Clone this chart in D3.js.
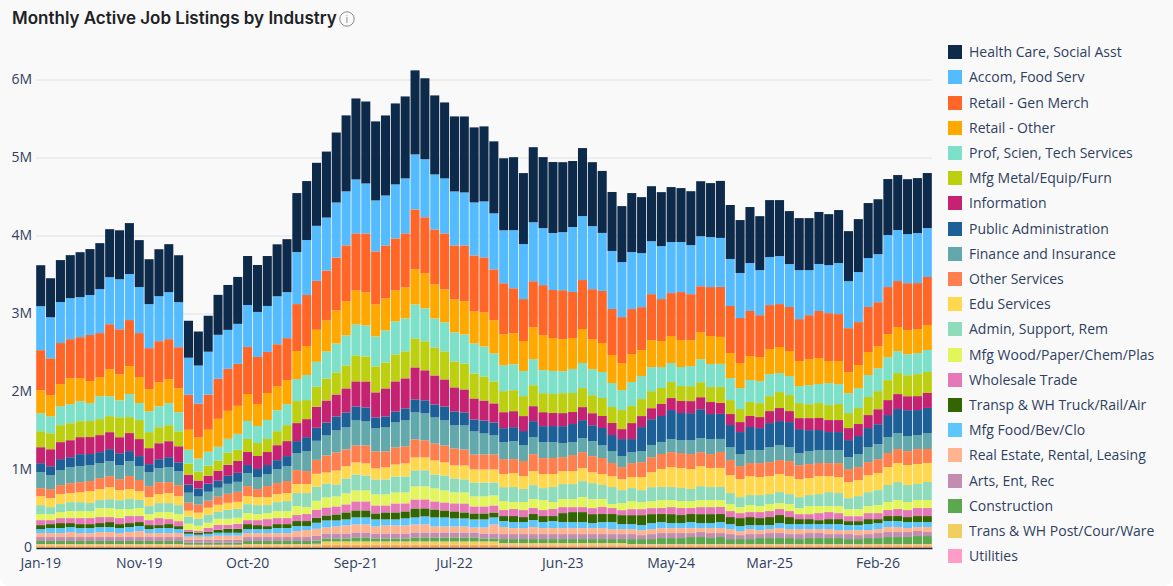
<!DOCTYPE html>
<html>
<head>
<meta charset="utf-8">
<title>Monthly Active Job Listings by Industry</title>
<script src="https://cdn.jsdelivr.net/npm/d3@7"></script>
<style>
  html, body { margin: 0; padding: 0; background: #fff; overflow: hidden; }
  svg { display: block; }
</style>
</head>
<body>
<div id="chart"></div>
<script>
// values in thousands of listings
const healthCare = [525,500,538,551,576,589,589,615,628,653,602,576,602,615,602,474,436,461,512,576,602,628,602,640,666,679,
  756,756,808,846,897,974,1038,1051,1013,1026,1038,1051,1077,1038,1013,974,962,974,962,962,923,923,936,910,962,910,910,897,846,872,820,795,756,718,
  756,718,705,692,705,692,692,705,692,731,692,679,718,692,731,718,679,667,667,667,654,679,641,679,705,705,718,705,705,705,705];
const accomFood = [564,526,526,526,513,513,564,603,641,590,590,564,577,603,577,474,487,551,564,500,513,538,577,590,615,590,667,705,705,
  679,705,692,692,641,654,641,692,705,705,744,705,705,692,679,679,718,718,679,744,705,756,731,731,744,833,820,808,744,744,705,
  731,692,679,679,654,641,628,641,641,628,603,577,615,577,615,615,551,628,577,603,615,654,603,641,628,615,667,654,628,641,628];
const retailGenMerch = [513,474,526,500,526,590,564,577,577,590,564,526,526,513,526,449,436,449,513,538,538,603,603,526,538,538,603,654,628,
  641,679,718,731,756,679,679,667,692,769,718,705,718,692,718,718,705,654,654,577,538,590,641,615,628,590,628,641,667,590,590,
  577,551,590,538,551,615,590,590,628,641,603,577,577,538,564,551,564,538,564,603,615,603,564,551,577,564,603,590,603,590,615];
const retailOther = [295,269,282,333,295,282,244,346,333,359,333,282,308,308,308,256,269,282,359,359,359,346,282,346,308,308,359,372,410,
  397,423,436,436,423,410,410,397,397,449,449,436,423,423,423,410,436,423,397,397,385,410,449,423,410,397,436,385,372,359,346,
  359,333,346,333,346,346,333,346,359,346,321,321,308,308,321,333,321,321,333,333,282,295,269,295,295,282,295,308,308,308,321];
const profScienTech = [231,218,244,244,256,231,295,256,218,295,218,269,269,282,244,179,167,179,179,179,205,231,218,244,269,269,282,321,321,
  346,372,385,397,397,385,410,423,423,436,423,372,372,372,372,385,385,359,333,333,321,333,295,295,282,308,321,333,333,308,256,
  308,295,308,269,244,244,256,295,295,295,282,269,282,282,282,244,244,218,244,244,282,256,256,256,282,295,295,282,269,269,282];
const mfgMetal = [205,205,218,218,205,205,205,205,256,205,244,205,205,205,192,141,115,128,128,154,141,167,167,167,179,205,282,244,256,
  282,282,295,333,321,333,333,346,346,372,372,359,359,333,333,321,308,282,269,269,256,269,244,244,256,244,244,231,231,205,244,
  218,218,218,205,205,192,192,192,192,205,179,167,179,179,192,205,205,192,179,192,192,205,192,205,231,231,256,269,269,282,269];
const information = [205,218,218,218,218,218,218,218,205,231,218,205,205,205,205,128,103,103,128,141,154,167,167,167,192,192,231,231,269,
  282,282,308,321,333,321,359,385,385,410,385,372,346,308,295,269,256,244,205,205,192,192,179,167,167,154,167,154,154,154,128,
  205,141,141,154,154,154,154,154,154,141,141,128,141,141,154,167,141,141,154,154,154,154,154,154,167,192,192,192,179,179,192];
const publicAdmin = [115,115,141,128,154,141,141,154,154,128,128,103,115,128,115,103,103,103,90,103,115,103,103,115,115,128,154,179,167,
  167,179,192,179,179,141,141,141,154,167,167,167,179,179,167,154,167,167,179,179,179,205,205,205,218,231,231,205,218,205,218,
  167,308,333,333,372,346,346,372,321,321,282,282,295,282,308,308,321,308,269,256,231,231,218,231,244,256,282,308,333,321,321];
const financeInsurance = [205,179,192,205,205,205,192,192,179,192,179,179,179,192,179,128,103,115,115,128,128,167,154,154,179,192,218,256,244,
  256,282,282,321,308,295,308,321,333,346,346,333,321,295,308,295,269,244,218,231,205,218,205,205,179,167,179,192,167,154,141,
  141,141,154,154,167,167,179,179,192,167,167,154,167,167,192,192,179,154,167,167,167,167,154,167,192,192,205,205,192,179,205];
const otherServices = [103,115,115,128,128,128,141,141,141,167,141,141,154,141,141,103,103,90,103,115,128,128,103,141,141,154,179,167,179,
  218,231,218,218,231,218,205,218,218,231,218,218,218,218,205,192,192,192,192,179,192,218,205,205,179,205,205,205,205,167,154,
  179,192,192,192,192,192,192,179,179,205,192,167,167,179,179,179,192,179,179,167,167,179,167,167,167,179,179,179,179,192,179];
const eduServices = [115,115,128,115,128,154,141,154,128,128,115,115,115,128,115,77,77,90,90,90,90,103,103,103,103,103,115,115,167,
  141,179,154,154,154,141,154,154,167,167,167,179,167,167,179,167,167,167,167,179,167,179,179,167,167,167,167,141,141,141,141,
  141,167,192,231,256,256,256,256,244,244,231,231,244,231,231,231,231,231,218,231,205,205,205,205,218,218,231,244,256,256,244];
const adminSupport = [115,90,103,115,115,103,103,115,115,128,103,103,115,115,115,90,90,103,90,115,115,115,115,103,115,128,167,179,179,
  179,154,192,205,192,192,192,205,205,205,205,179,192,179,167,179,179,167,179,192,167,179,154,192,192,192,205,205,179,218,167,
  167,154,179,167,167,167,154,179,167,167,141,128,128,141,128,141,128,141,141,154,179,167,141,167,179,192,218,231,218,205,231];
const mfgWood = [77,77,77,90,90,90,115,115,115,90,103,77,77,90,90,77,64,64,77,77,77,90,77,77,90,90,115,90,115,
  128,128,141,141,141,141,141,141,141,167,167,167,154,141,141,128,128,128,115,90,103,115,128,90,103,103,128,115,103,51,90,
  103,90,90,103,90,90,90,90,90,90,90,77,90,77,90,77,90,77,103,90,77,90,90,90,90,103,103,115,103,103,103];
const wholesale = [64,51,64,64,77,77,77,64,77,90,77,64,90,64,64,26,26,51,64,51,64,51,64,90,77,77,77,90,103,
  103,103,103,115,115,103,90,115,103,115,115,103,103,103,115,90,90,90,77,90,90,77,77,90,77,64,64,77,90,77,64,
  77,77,77,77,90,90,77,90,90,90,77,64,64,77,77,77,77,64,64,90,90,77,64,64,77,77,77,90,90,103,103];
const transpTruck = [51,51,64,51,51,51,51,64,51,51,51,51,38,51,38,26,26,26,38,51,51,64,51,38,51,51,64,64,64,
  64,77,90,90,90,77,90,90,90,115,103,103,90,90,77,77,77,64,64,77,64,77,77,64,115,128,128,115,103,103,115,
  115,128,115,103,115,103,103,115,115,103,90,103,103,90,103,103,90,64,64,51,64,64,51,51,64,51,64,64,64,77,77];
const mfgFood = [51,64,64,64,64,64,64,64,64,64,64,51,64,64,51,38,26,38,38,38,38,51,51,51,64,64,64,51,77,
  90,77,77,90,90,90,77,77,90,90,103,115,115,103,103,103,103,90,77,77,77,90,77,90,77,77,77,64,77,90,64,
  64,64,77,77,64,64,77,64,64,77,64,64,51,64,51,64,64,64,64,64,64,77,64,64,77,77,77,77,77,64,64];
const realEstate = [51,51,51,64,51,51,64,64,51,64,77,51,51,51,51,38,38,38,51,51,51,51,51,51,51,51,77,90,90,
  77,90,103,103,103,90,103,103,103,103,103,77,77,77,77,64,77,115,90,77,77,90,77,77,77,77,77,77,77,64,64,
  64,64,64,64,64,64,64,51,64,64,64,51,64,51,51,64,64,64,51,51,64,51,51,64,51,51,64,64,51,51,64];
const artsEnt = [51,51,51,51,51,51,51,51,51,51,51,51,51,51,51,38,38,38,38,38,38,51,51,51,51,51,51,51,64,
  64,64,64,64,64,64,64,64,64,64,64,64,64,64,64,64,64,64,64,64,64,64,64,64,64,64,64,64,64,64,64,
  64,51,64,64,64,64,51,64,64,51,64,51,64,51,64,64,51,64,64,64,51,51,64,51,51,64,64,64,64,64,51];
const construction = [38,38,38,38,38,38,38,38,38,38,38,38,38,38,38,26,26,26,26,26,26,38,38,38,38,38,38,38,38,
  38,38,38,51,51,38,38,38,38,51,51,51,51,51,51,51,38,38,51,51,51,51,51,51,51,51,51,51,51,51,51,
  64,64,64,77,77,77,90,90,77,90,64,64,64,77,77,77,77,64,77,77,77,77,64,64,77,77,90,90,90,103,103];
const transPost = [15,15,15,15,15,15,15,15,15,15,15,15,15,15,15,10,10,10,10,10,10,15,15,15,15,15,15,15,18,
  38,38,38,38,38,38,38,38,38,38,38,38,38,38,38,38,38,38,24,24,24,24,24,24,24,24,24,24,24,24,24,
  13,13,13,13,13,13,13,13,13,13,13,13,13,13,13,13,13,13,13,13,13,13,13,13,13,13,13,13,13,13,13];
const utilities = [7,7,7,7,7,7,7,7,7,7,7,7,7,7,7,5,5,5,5,5,5,7,7,7,7,7,7,7,7,
  9,9,9,9,9,9,9,9,9,9,9,9,9,9,9,9,9,9,8,8,8,8,8,8,8,8,8,8,8,8,8,
  8,8,8,8,8,8,8,8,8,8,8,8,8,8,8,8,8,8,8,8,8,8,8,8,8,8,8,8,8,8,8];

// two thin bands under Utilities that the legend cuts off
const unlistedAmber = [10,10,10,10,10,10,10,10,10,10,10,10,10,10,10,8,8,8,8,8,8,10,10,10,10,10,10,10,10,
  15,15,15,15,15,15,15,15,15,15,15,15,15,15,15,15,15,15,11,11,11,11,11,11,11,11,11,11,11,11,11,
  9,9,9,9,9,9,9,9,9,9,9,9,9,9,9,9,9,9,9,9,9,9,9,9,9,9,9,9,9,9,9];
const unlistedOrange = [13,13,13,13,13,13,13,13,13,13,13,13,13,13,13,13,13,13,13,13,13,13,13,13,13,13,13,13,13,
  16,16,16,16,16,16,16,16,16,16,16,16,16,16,16,16,16,16,14,14,14,14,14,14,14,14,14,14,14,14,14,
  14,14,14,14,14,14,14,14,14,14,14,14,14,14,14,14,14,14,14,14,14,14,14,14,14,14,14,14,14,14,14];

const seriesNames = ['Health Care, Social Asst','Accom, Food Serv','Retail - Gen Merch','Retail - Other','Prof, Scien, Tech Services',
  'Mfg Metal/Equip/Furn','Information','Public Administration','Finance and Insurance','Other Services','Edu Services',
  'Admin, Support, Rem','Mfg Wood/Paper/Chem/Plas','Wholesale Trade','Transp & WH Truck/Rail/Air','Mfg Food/Bev/Clo',
  'Real Estate, Rental, Leasing','Arts, Ent, Rec','Construction','Trans & WH Post/Cour/Ware','Utilities'];
const seriesColors = ['#0e2a4a','#55bbff','#ff6628','#ffa800','#7de0c8','#bccf10','#c62272','#1d5f97','#63a8aa','#ff7f4e','#ffd84d',
  '#8fdcbc','#e2f55a','#e678b8','#336600','#5ec6ff','#ffb38f','#c28db0','#5ca84e','#f0cf60','#ff9dc8'];
const seriesValues = [healthCare,accomFood,retailGenMerch,retailOther,profScienTech,mfgMetal,information,publicAdmin,financeInsurance,
  otherServices,eduServices,adminSupport,mfgWood,wholesale,transpTruck,mfgFood,realEstate,artsEnt,construction,transPost,utilities];

const yTicks = [0,1000,2000,3000,4000,5000,6000];
const xTickLabels = ['Jan-19','Nov-19','Oct-20','Sep-21','Jul-22','Jun-23','May-24','Mar-25','Feb-26'];

const width = 1173
    , height = 586
    , left = 36
    , right = 932
    , baseY = 547.5
    , sixMY = 79.5
    , legendX = 948
    , legendY = 45.2
    , legendStep = 25.2
    , swatch = 14
    , textColor = '#2f3f5f'
    ;

const fmtMonth = d3.timeFormat('%b-%y');
const months = d3.timeMonths(new Date(2019, 0, 1), new Date(2026, 7, 1)).map(fmtMonth);

// hidden bands sit at the very bottom of the stack
const allKeys = seriesNames.concat(['unlistedAmber', 'unlistedOrange']);
const allValues = seriesValues.concat([unlistedAmber, unlistedOrange]);
const allColors = seriesColors.concat(['#ffb300', '#ff7a1e']);

const rows = months.map((m, i) => {
  const row = { month: m };
  allKeys.forEach((k, j) => { row[k] = allValues[j][i]; });
  return row;
});

const stacked = d3.stack().keys(allKeys.slice().reverse())(rows);

const x = d3.scaleBand().domain(months).range([left, right]).paddingInner(0.08).paddingOuter(0.02);
const y = d3.scaleLinear().domain([0, 6000]).range([baseY, sixMY]);

const svg = d3.select('#chart').append('svg')
  .attr('width', width)
  .attr('height', height);

// card, only the bottom corners show
svg.append('rect')
  .attr('y', -20)
  .attr('width', width)
  .attr('height', height + 20)
  .attr('rx', 9)
  .attr('fill', '#f9f9f9');

svg.append('text')
  .attr('x', 12)
  .attr('y', 24)
  .attr('font-family', 'Inter, sans-serif')
  .attr('font-weight', 600)
  .attr('font-size', 17)
  .attr('fill', '#202124')
  .text('Monthly Active Job Listings by Industry');

// info icon next to the title
const info = svg.append('g').attr('transform', 'translate(347,19)');
info.append('circle').attr('r', 7.2).attr('fill', 'none').attr('stroke', '#8a8a8a').attr('stroke-width', 1);
info.append('text')
  .attr('text-anchor', 'middle')
  .attr('y', 4)
  .attr('font-family', 'Open Sans, sans-serif')
  .attr('font-size', 11)
  .attr('fill', '#8a8a8a')
  .text('i');

// gridlines and y labels
const yAxis = svg.append('g')
  .attr('transform', `translate(${left},0)`)
  .call(d3.axisLeft(y)
    .tickValues(yTicks)
    .tickSize(-(right - left))
    .tickPadding(4)
    .tickFormat(d => d === 0 ? '0' : `${d / 1000}M`));
yAxis.select('.domain').remove();
yAxis.selectAll('line').attr('stroke', '#e2e2e2');
yAxis.selectAll('text')
  .attr('font-family', 'Open Sans, sans-serif')
  .attr('font-size', 14)
  .attr('fill', textColor);

svg.append('g')
  .selectAll('g')
  .data(stacked)
  .join('g')
    .attr('fill', d => allColors[allKeys.indexOf(d.key)])
  .selectAll('rect')
  .data(d => d)
  .join('rect')
    .attr('x', d => x(d.data.month))
    .attr('y', d => y(d[1]))
    .attr('width', x.bandwidth())
    .attr('height', d => y(d[0]) - y(d[1]));

// month labels, the domain is the dark base line under the bars
const xAxis = svg.append('g')
  .attr('transform', `translate(0,${baseY + 0.5})`)
  .call(d3.axisBottom(x)
    .tickValues(xTickLabels)
    .tickSize(0)
    .tickPadding(10));
xAxis.select('.domain')
  .attr('stroke', '#0e2a4a')
  .attr('stroke-width', 1.4);
xAxis.selectAll('text')
  .attr('font-family', 'Open Sans, sans-serif')
  .attr('font-size', 14)
  .attr('fill', textColor);

const legend = svg.append('g')
  .selectAll('g')
  .data(seriesNames)
  .join('g')
    .attr('transform', (d, i) => `translate(${legendX},${Math.round(legendY + i * legendStep)})`);

legend.append('rect')
  .attr('width', swatch)
  .attr('height', swatch)
  .attr('fill', (d, i) => seriesColors[i]);

legend.append('text')
  .attr('x', 21)
  .attr('y', 12)
  .attr('font-family', 'Open Sans, sans-serif')
  .attr('font-size', 14)
  .attr('fill', textColor)
  .text(d => d);
</script>
</body>
</html>
